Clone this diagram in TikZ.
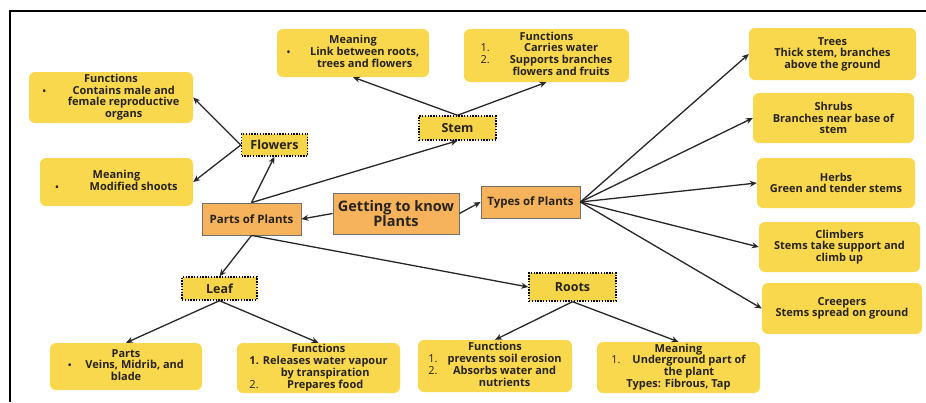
\documentclass[tikz,border=0pt]{standalone}
\usepackage{fontspec}
\setmainfont{Open Sans}
\usetikzlibrary{arrows.meta}

\definecolor{cardfill}{HTML}{F9D84E}
\definecolor{hubfill}{HTML}{F7D548}
\definecolor{corefill}{HTML}{F7B35C}
\definecolor{coreline}{HTML}{707070}
\definecolor{ink}{HTML}{27231F}

\tikzset{
  sz/.style 2 args={minimum width=#1pt, minimum height=#2pt},
  card/.style={fill=cardfill, rounded corners=6pt, align=center, inner sep=0pt,
    text=ink, font=\bfseries\fontsize{11}{11.5}\selectfont},
  hub/.style={fill=hubfill, draw=black, line width=1.4pt, dash pattern=on 1.4pt off 1.4pt,
    text=ink, inner sep=0pt, font=\bfseries\fontsize{12.5}{14}\selectfont},
  core/.style={fill=corefill, draw=coreline, line width=0.8pt, text=ink, align=center,
    inner sep=0pt, font=\bfseries\fontsize{11.5}{13}\selectfont},
  link/.style={-{Stealth[length=7pt,width=6pt]}, line width=1.3pt, black!85},
}
\newcommand{\dotmark}{{\fontsize{9}{9}\selectfont\textbullet}}

\begin{document}
\begin{tikzpicture}[x=1pt, y=-1pt]
\useasboundingbox (0,0) rectangle (926,402);

% page frame (top and left rules)
\draw[line width=2.5pt] (926,11) -- (10,11) -- (10,402);

% central and second-level boxes
\node[core, sz={126}{41}, font=\bfseries\fontsize{14.5}{15}\selectfont] (know) at (396,213.5) {Getting to know\\Plants};
\node[core, sz={99}{32}] (parts) at (251.5,219) {Parts of Plants};
\node[core, sz={99}{32}] (types) at (530.5,202) {Types of Plants};

% plant parts
\node[hub, sz={66}{22}] (flowers) at (274.5,145) {Flowers};
\node[hub, sz={77}{24}] (stem) at (457.5,128) {Stem};
\node[hub, sz={75}{23}] (leaf) at (219.5,288.5) {Leaf};
\node[hub, sz={87}{28}] (roots) at (572.5,287) {Roots};

% flowers
\node[card, sz={164}{51}] (ffun) at (111,97.5) {Functions\\
  \begin{tabular}[t]{@{}l@{\hspace{22pt}}c@{}}\dotmark & Contains male and\\ & female reproductive\\ & organs\end{tabular}};
\node[card, sz={153}{48}] (fmean) at (116.5,182) {Meaning\\
  \begin{tabular}[t]{@{}l@{\hspace{31pt}}c@{}}\dotmark & Modified shoots\end{tabular}};

% stem
\node[card, sz={152}{48}] (smean) at (353,53) {Meaning\\
  \begin{tabular}[t]{@{}l@{\hspace{20pt}}c@{}}\dotmark & Link between roots,\\ & trees and flowers\end{tabular}};
\node[card, sz={165}{53}] (sfun) at (546.5,55.5) {Functions\\
  \begin{tabular}[t]{@{}l@{\hspace{20pt}}c@{}}\mdseries 1. & Carries water\\ \mdseries 2. & Supports branches\\ & flowers and fruits\end{tabular}};

% leaf
\node[card, sz={152}{47}] (lparts) at (126,366.5) {Parts\\
  \begin{tabular}[t]{@{}l@{\hspace{14pt}}c@{}}\dotmark & Veins, Midrib, and\\ \multicolumn{2}{c}{blade}\end{tabular}};
\node[card, sz={163}{50}] (lfun) at (318.5,368) {Functions\\
  \begin{tabular}[t]{@{}l@{\hspace{4pt}}c@{}}1. & Releases water vapour\\ & by transpiration\\ \mdseries 2. & Prepares food\end{tabular}};

% roots
\node[card, sz={154}{52}] (rfun) at (495,366) {Functions\\
  \begin{tabular}[t]{@{}l@{\hspace{10pt}}c@{}}\mdseries 1. & prevents soil erosion\\ \mdseries 2. & Absorbs water and\\ & nutrients\end{tabular}};
\node[card, sz={163}{51}] (rmean) at (678.5,367.5) {Meaning\\
  \begin{tabular}[t]{@{}l@{\hspace{12pt}}c@{}}\mdseries 1. & Underground part of\\ & the plant\\ \multicolumn{2}{c}{Types: Fibrous, Tap}\end{tabular}};

% types of plants
\node[card, sz={167}{52}] (trees) at (832.5,54) {Trees\\Thick stem, branches\\above the ground};
\node[card, sz={161}{50}] (shrubs) at (833.5,118) {Shrubs\\Branches near base of\\stem};
\node[card, sz={158}{50}] (herbs) at (836,183) {Herbs\\Green and tender stems};
\node[card, sz={161}{50}] (climbers) at (839.5,247) {Climbers\\Stems take support and\\climb up};
\node[card, sz={160}{51}] (creepers) at (842,308.5) {Creepers\\Stems spread on ground};

% connectors
\draw[link] (know.west) -- (parts.east);
\draw[link] (know.east) -- (types.west);

\draw[link] (parts.north) -- (flowers.south);
\draw[link] (parts.north) -- (stem.south);
\draw[link] (parts.south) -- (leaf.north);
\draw[link] (parts.south) -- (roots.west);

\draw[link] (flowers.west) -- (ffun.east);
\draw[link] (flowers.west) -- (fmean.east);
\draw[link] (stem.north) -- (smean.south);
\draw[link] (stem.north) -- (sfun.south);
\draw[link] (leaf.south) -- (lparts.north);
\draw[link] (leaf.south) -- (lfun.north);
\draw[link] (roots.south) -- (rfun.north);
\draw[link] (roots.south) -- (rmean.north);

\draw[link] (types.east) -- (trees.west);
\draw[link] (types.east) -- (shrubs.west);
\draw[link] (types.east) -- (herbs.west);
\draw[link] (types.east) -- (climbers.west);
\draw[link] (types.east) -- (creepers.west);
\end{tikzpicture}
\end{document}
